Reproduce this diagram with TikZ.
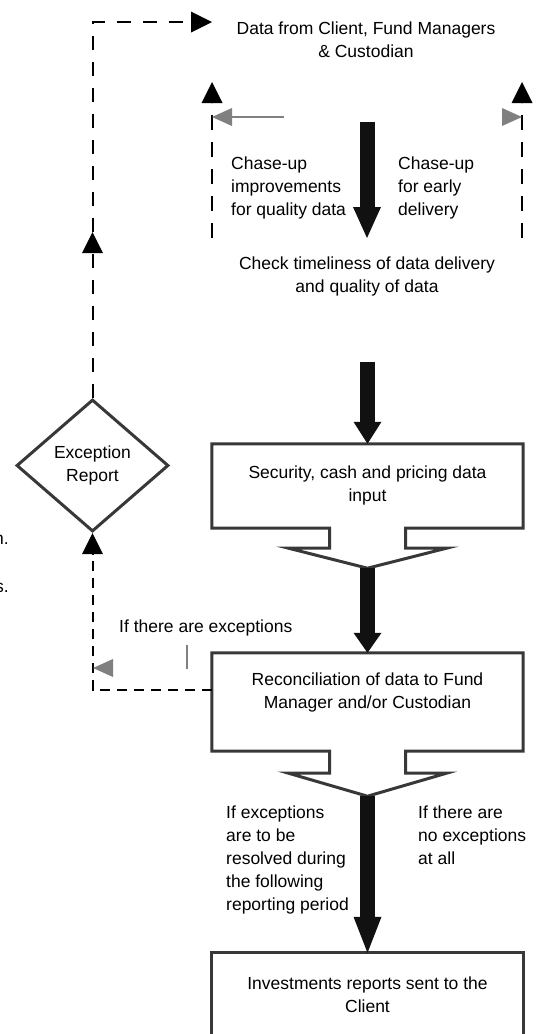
\documentclass[tikz,border=0pt]{standalone}
\usepackage{fontspec}
\setmainfont{Liberation Sans}
\usetikzlibrary{arrows.meta,shapes.geometric,positioning,calc}
\definecolor{linegray}{HTML}{383838}
\definecolor{tipgray}{HTML}{808080}
\definecolor{arrowblack}{HTML}{111111}

\begin{document}
\begin{tikzpicture}[x=1pt, y=-1pt,
    txt/.style={font=\fontsize{17.5}{23}\selectfont, inner sep=0pt},
    frame/.style={minimum width=311pt, inner sep=0pt},
    boxline/.style={draw=linegray, line width=3pt},
    bigarrow/.style={draw=arrowblack, line width=15pt,
                     -{Triangle[length=#1, width=28pt, line width=0pt]}},
    bigarrow/.default=28pt,
    loopline/.style={line width=2pt, dash pattern=on 14pt off 12pt},
    looptip/.style={-{Triangle[length=21pt, width=21pt, line width=0pt]}},
    graytip/.style={draw=tipgray, line width=1.5pt,
                    -{Triangle[length=20pt, width=18pt, line width=0pt]}}
]
\useasboundingbox (0,0) rectangle (539,1034);

% --- texts at the top ---
\node[txt, anchor=north, align=center] (data) at (366,22)
  {Data from Client, Fund Managers\\\& Custodian};
\node[txt, anchor=north west, align=left] (qual) at (231,157)
  {Chase-up\\improvements\\for quality data};
\node[txt, anchor=north west, align=left] (early) at (398,157)
  {Chase-up\\for early\\delivery};
\node[txt, anchor=north, align=center] (chk) at (367,257)
  {Check timeliness of data delivery\\and quality of data};

% --- process boxes ---
\node[frame, minimum height=84pt]  (sec) at (367.5,486) {};
\node[txt, align=center, below=22pt of sec.north] (secT)
  {Security, cash and pricing data\\input};
\node[frame, minimum height=98pt]  (rec) at (367.5,702) {};
\node[txt, align=center, below=20pt of rec.north] (recT)
  {Reconciliation of data to Fund\\Manager and/or Custodian};
\node[frame, minimum height=100pt] (inv) at (367.5,1003) {};
\node[txt, align=center, below=24pt of inv.north] (invT)
  {Investments reports sent to the\\Client};

\draw[boxline] ($(sec.south)+(-38,0)$) -- (sec.south west) -- (sec.north west)
  -- (sec.north east) -- (sec.south east) -- ($(sec.south)+(38,0)$) -- ++(0,20)
  -- ++(41,0) -- ($(sec.south)+(0,40)$) -- ($(sec.south)+(-79,20)$) -- ++(41,0) -- cycle;
\draw[boxline] ($(rec.south)+(-38,0)$) -- (rec.south west) -- (rec.north west)
  -- (rec.north east) -- (rec.south east) -- ($(rec.south)+(38,0)$) -- ++(0,22)
  -- ++(41,0) -- ($(rec.south)+(0,45)$) -- ($(rec.south)+(-79,22)$) -- ++(41,0) -- cycle;
\draw[boxline] (inv.south west) -- (inv.north west) -- (inv.north east) -- (inv.south east);
\coordinate (secTip) at ($(sec.south)+(0,40)$);
\coordinate (recTip) at ($(rec.south)+(0,45)$);

% --- exception loop ---
\node[diamond, draw=linegray, line width=3pt, aspect=1.15, minimum width=152pt,
      minimum height=132pt, txt, align=center] (exc) at (92.5,465.5) {Exception\\Report};
\node[txt, anchor=north west] (excT) at (119,620) {If there are exceptions};

\coordinate (dataIn)  at (212,22);
\coordinate (loopMid) at (92.5,232);
\draw[loopline, looptip] (exc.north) -- (loopMid);
\draw[loopline, looptip] (loopMid) |- (dataIn);
\draw[loopline, dash pattern=on 10pt off 7pt, looptip]
  ($(rec.west)+(0,-12)$) -| (exc.south);

% --- chase-up lines ---
\coordinate (chkL)  at (212,238);
\coordinate (dataL) at (212,82);
\coordinate (chkR)  at (522,238);
\coordinate (dataR) at (522,82);
\draw[loopline, dash pattern=on 15pt off 12pt, looptip] (chkL) -- (dataL);
\draw[loopline, dash pattern=on 15pt off 12pt, looptip] (chkR) -- (dataR);

\coordinate (qualG)  at (284,117);
\coordinate (earlyG) at (502,117);
\draw[graytip] (qualG) -- (dataL |- qualG);
\draw[graytip] (earlyG) -- (dataR |- earlyG);
\coordinate (excG) at (113,668);
\draw[graytip] (excG) -- (93,668);
\draw[draw=tipgray, line width=1.5pt] (187,645) -- (187,669);

% --- main flow ---
\coordinate (dataOut) at (367,122);
\coordinate (chkIn)   at (367,238);
\coordinate (chkOut)  at (367.5,362);
\draw[bigarrow=31pt] (dataOut) -- (chkIn);
\draw[bigarrow=22pt] (chkOut) -- (sec.north);
\draw[bigarrow=20pt] (secTip) -- (rec.north);
\draw[bigarrow=36pt] (recTip) -- (inv.north);

\node[txt, anchor=north west, align=left] (resolv) at (226,806)
  {If exceptions\\are to be\\resolved during\\the following\\reporting period};
\node[txt, anchor=north west, align=left] (noexc) at (418,806)
  {If there are\\no exceptions\\at all};

% --- cut-off words at the left edge ---
\node[txt, anchor=east] (cutA) at (9,540) {n.};
\node[txt, anchor=east] (cutB) at (9,588) {s.};

\end{tikzpicture}
\end{document}
